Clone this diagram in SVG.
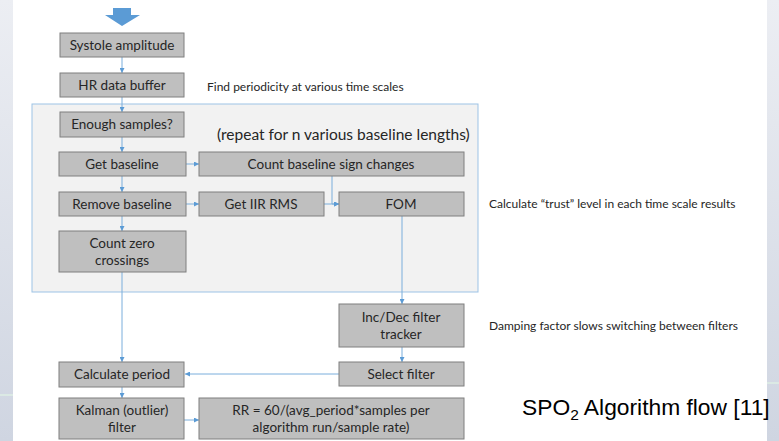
<svg xmlns="http://www.w3.org/2000/svg" width="779" height="441" viewBox="0 0 779 441">
<defs>
<linearGradient id="side" x1="0" y1="0" x2="0" y2="1">
<stop offset="0" stop-color="#eceef3"/>
<stop offset="1" stop-color="#cfd5e1"/>
</linearGradient>
<marker id="ah" viewBox="0 0 6 6" refX="6" refY="3" markerWidth="5" markerHeight="5" orient="auto" markerUnits="userSpaceOnUse">
<path d="M0,0 L6,3 L0,6 z" fill="#5b9bd5"/>
</marker>
<style>
.box{fill:#bfbfbf;stroke:#7f7f7f;stroke-width:1}
.t{font-family:Lato,"Open Sans","Liberation Sans",sans-serif;font-size:13.5px;fill:#262626;text-anchor:middle}
.note{font-family:Lato,"Open Sans","Liberation Sans",sans-serif;font-size:12px;fill:#262626}
.c{stroke:#7aaedc;stroke-width:1;fill:none}
.ca{stroke:#7aaedc;stroke-width:1;fill:none;marker-end:url(#ah)}
</style>
</defs>
<rect x="0" y="0" width="779" height="441" fill="#ffffff"/>
<rect x="0" y="0" width="13" height="441" fill="url(#side)"/>
<rect x="767" y="0" width="12" height="441" fill="url(#side)"/>
<rect x="0" y="394" width="13" height="2" fill="#dbe9e4"/>
<rect x="767" y="382" width="12" height="2" fill="#dbe9e4"/>

<path d="M113,8 H131 V15 H140 L122,26 L105,15 H113 Z" fill="#5b9bd5"/>

<g id="container">
<rect x="32" y="104" width="446" height="188" fill="#f2f2f2" stroke="#9dc3e6" stroke-width="1"/>
<text x="217" y="140" font-family="Lato,'Open Sans','Liberation Sans',sans-serif" font-size="15.5" fill="#262626">(repeat for n various baseline lengths)</text>
</g>

<g id="connectors">
<line class="ca" x1="122" y1="57" x2="122" y2="73"/>
<line class="ca" x1="122" y1="97" x2="122" y2="112"/>
<line class="ca" x1="122" y1="137" x2="122" y2="152"/>
<line class="ca" x1="122" y1="176" x2="122" y2="192"/>
<line class="ca" x1="122" y1="216" x2="122" y2="231"/>
<line class="ca" x1="186" y1="164" x2="199" y2="164"/>
<line class="ca" x1="186" y1="204" x2="199" y2="204"/>
<line class="ca" x1="324" y1="204" x2="339" y2="204"/>
<polyline class="ca" points="332,176 332,204 339,204"/>
<line class="ca" x1="402" y1="216" x2="402" y2="304"/>
<line class="ca" x1="402" y1="347" x2="402" y2="362"/>
<line class="ca" x1="122" y1="272" x2="122" y2="362"/>
<line class="ca" x1="339" y1="374" x2="185" y2="374"/>
<line class="ca" x1="122" y1="387" x2="122" y2="398"/>
<line class="ca" x1="184" y1="420" x2="199" y2="420"/>
</g>

<g id="systole"><rect class="box" x="60" y="33" width="124" height="24"/><text class="t" x="122" y="50">Systole amplitude</text></g>
<g id="hrbuffer"><rect class="box" x="60" y="73" width="124" height="24"/><text class="t" x="122" y="90">HR data buffer</text></g>
<g id="enough"><rect class="box" x="60" y="112" width="124" height="25"/><text class="t" x="122" y="129">Enough samples?</text></g>
<g id="getbaseline"><rect class="box" x="59" y="152" width="127" height="24"/><text class="t" x="122" y="169">Get baseline</text></g>
<g id="countsign"><rect class="box" x="199" y="152" width="265" height="24"/><text class="t" x="331" y="169">Count baseline sign changes</text></g>
<g id="removebaseline"><rect class="box" x="59" y="192" width="127" height="24"/><text class="t" x="122" y="209">Remove baseline</text></g>
<g id="iirrms"><rect class="box" x="199" y="192" width="125" height="24"/><text class="t" x="261" y="209">Get IIR RMS</text></g>
<g id="fom"><rect class="box" x="339" y="192" width="125" height="24"/><text class="t" x="401" y="209">FOM</text></g>
<g id="zerocross"><rect class="box" x="59" y="231" width="127" height="41"/><text class="t" x="122" y="248">Count zero</text><text class="t" x="122" y="265">crossings</text></g>
<g id="incdec"><rect class="box" x="339" y="304" width="125" height="43"/><text class="t" x="401" y="322">Inc/Dec filter</text><text class="t" x="401" y="339">tracker</text></g>
<g id="select"><rect class="box" x="339" y="362" width="125" height="24"/><text class="t" x="401" y="379">Select filter</text></g>
<g id="calcperiod"><rect class="box" x="59" y="362" width="125" height="25"/><text class="t" x="122" y="379">Calculate period</text></g>
<g id="kalman"><rect class="box" x="59" y="398" width="125" height="41"/><text class="t" x="122" y="415">Kalman (outlier)</text><text class="t" x="122" y="432">filter</text></g>
<g id="rr"><rect class="box" x="199" y="398" width="265" height="41"/><text class="t" x="331" y="415">RR = 60/(avg_period*samples per</text><text class="t" x="331" y="432">algorithm run/sample rate)</text></g>

<text class="note" x="207" y="91">Find periodicity at various time scales</text>
<text class="note" x="489" y="208">Calculate “trust” level in each time scale results</text>
<text class="note" x="489" y="330">Damping factor slows switching between filters</text>
<text x="522" y="415" font-family="'Liberation Sans',Arial,sans-serif" font-size="22.8" fill="#000000">SPO<tspan font-size="15.5" dy="5">2</tspan><tspan dy="-5"> Algorithm flow [11]</tspan></text>
</svg>
